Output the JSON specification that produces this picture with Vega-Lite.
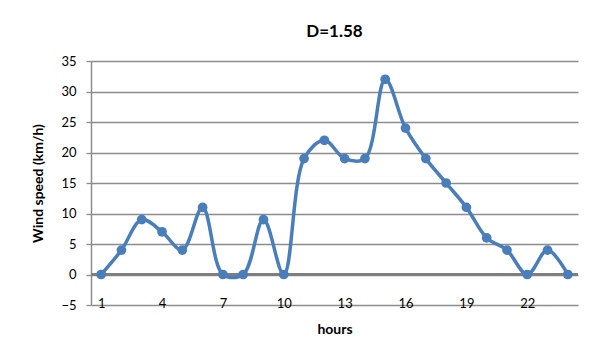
{
  "$schema": "https://vega.github.io/schema/vega-lite/v6.json",
  "autosize": "none",
  "width": 487,
  "height": 244,
  "padding": {"left": 91, "top": 61, "right": 14, "bottom": 51},
  "background": "white",
  "title": {
    "text": "D=1.58",
    "font": "Lato",
    "fontSize": 17,
    "fontWeight": "bold",
    "color": "#000000",
    "anchor": "middle",
    "offset": 14
  },
  "data": {
    "values": [
      {"hour": 1, "speed": 0},
      {"hour": 2, "speed": 4},
      {"hour": 3, "speed": 9},
      {"hour": 4, "speed": 7},
      {"hour": 5, "speed": 4},
      {"hour": 6, "speed": 11},
      {"hour": 7, "speed": 0},
      {"hour": 8, "speed": 0},
      {"hour": 9, "speed": 9},
      {"hour": 10, "speed": 0},
      {"hour": 11, "speed": 19},
      {"hour": 12, "speed": 22},
      {"hour": 13, "speed": 19},
      {"hour": 14, "speed": 19},
      {"hour": 15, "speed": 32},
      {"hour": 16, "speed": 24},
      {"hour": 17, "speed": 19},
      {"hour": 18, "speed": 15},
      {"hour": 19, "speed": 11},
      {"hour": 20, "speed": 6},
      {"hour": 21, "speed": 4},
      {"hour": 22, "speed": 0},
      {"hour": 23, "speed": 4},
      {"hour": 24, "speed": 0}
    ]
  },
  "encoding": {
    "x": {
      "field": "hour",
      "type": "quantitative",
      "scale": {"domain": [0.5, 24.5], "nice": false, "zero": false},
      "axis": {
        "title": "hours",
        "titleFont": "Lato",
        "titleFontSize": 14,
        "titleFontWeight": "bold",
        "titleColor": "#000000",
        "titlePadding": 12,
        "values": [1, 4, 7, 10, 13, 16, 19, 22],
        "grid": false,
        "ticks": false,
        "domain": false,
        "labelFont": "Lato",
        "labelFontSize": 13,
        "labelColor": "#000000",
        "labelBaseline": "middle",
        "labelPadding": -2,
        "labelFlush": false,
        "labelOverlap": false
      }
    },
    "y": {
      "field": "speed",
      "type": "quantitative",
      "scale": {"domain": [-5, 35], "nice": false, "zero": false},
      "axis": {
        "title": "Wind speed (km/h)",
        "titleFont": "Lato",
        "titleFontSize": 14,
        "titleFontWeight": "bold",
        "titleColor": "#000000",
        "titlePadding": 15,
        "values": [-5, 0, 5, 10, 15, 20, 25, 30, 35],
        "tickCount": 9,
        "grid": true,
        "gridColor": "#8c8c8c",
        "gridWidth": 1.3,
        "domain": true,
        "domainColor": "#8c8c8c",
        "domainWidth": 1.5,
        "ticks": true,
        "tickColor": "#8c8c8c",
        "tickSize": 5,
        "tickWidth": 1.3,
        "labelFont": "Lato",
        "labelFontSize": 13,
        "labelColor": "#000000",
        "labelPadding": 10,
        "labelOverlap": false,
        "labelFlush": false
      }
    }
  },
  "layer": [
    {
      "mark": {"type": "rule", "color": "#7f7f7f", "strokeWidth": 2},
      "encoding": {
        "x": {"datum": 0.5, "type": "quantitative"},
        "x2": {"datum": 24.5},
        "y": {"datum": 0, "type": "quantitative"}
      }
    },
    {
      "mark": {"type": "line", "interpolate": "catmull-rom", "color": "#4a7ebb", "strokeWidth": 3.5}
    },
    {
      "mark": {"type": "point", "filled": true, "color": "#4a7ebb", "opacity": 1, "size": 95}
    }
  ],
  "config": {"view": {"stroke": null}}
}
